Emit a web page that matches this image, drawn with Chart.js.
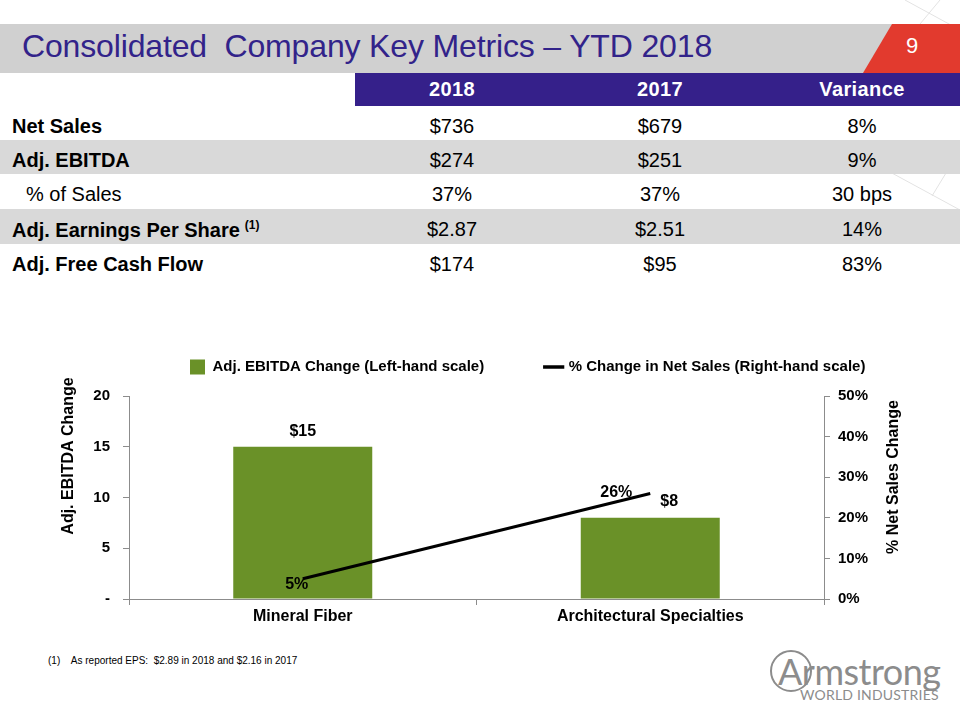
<!DOCTYPE html>
<html>
<head>
<meta charset="utf-8">
<script src="https://cdn.jsdelivr.net/npm/chart.js@4.4.1/dist/chart.umd.min.js"></script>
<style>
  body { margin: 0; width: 960px; height: 720px; position: relative; overflow: hidden; background: #fff;
         font-family: "Liberation Sans", Arial, sans-serif; }
  .abs { position: absolute; }
  #titlebar { left: 0; top: 24px; width: 960px; height: 49px; background: #d0d0d0; }
  #title { left: 22px; top: 28px; font-size: 32px; letter-spacing: -0.15px; color: #32238a; white-space: nowrap; }
  #pagenum { left: 900px; top: 33px; width: 24px; text-align: center; font-size: 22px; color: #fff; }
  .row { position: absolute; left: 0; width: 960px; }
  .row.grey { background: #d9d9d9; }
  .cell { position: absolute; top: 0; white-space: nowrap; font-size: 20px; color: #000; }
  .lab { left: 12px; font-weight: bold; }
  .lab.indent { left: 26px; font-weight: normal; }
  .num { width: 200px; text-align: center; }
  #head { left: 355px; top: 73px; width: 605px; height: 33px; background: #35208a; }
  .hd { position: absolute; top: 5px; width: 200px; text-align: center; color: #fff; font-weight: bold; font-size: 20px; letter-spacing: 0.4px; }
  #chartbox { left: 56px; top: 350px; width: 880px; height: 280px; }
  #note { left: 48px; top: 654px; font-size: 11px; color: #000; white-space: nowrap; transform: scaleX(0.91); transform-origin: 0 0; }
  #logo { left: 768px; top: 646px; width: 190px; height: 60px; color: #8c8c8c; white-space: nowrap; }
</style>
</head>
<body>
<svg class="abs" style="left:0;top:0" width="960" height="720">
  <g stroke="#e3e3e3" stroke-width="1" fill="none">
    <line x1="905" y1="0" x2="960" y2="30"/>
    <line x1="940" y1="0" x2="920" y2="24"/>
    <line x1="890" y1="172" x2="960" y2="210"/>
    <line x1="960" y1="150" x2="932" y2="196"/>
  </g>
</svg>
<div id="titlebar" class="abs"></div>
<svg class="abs" style="left:0;top:0" width="960" height="80">
  <polygon points="892,24 960,24 960,73 863,73" fill="#e23a2e"/>
</svg>
<div id="title" class="abs">Consolidated&nbsp; Company Key Metrics – YTD 2018</div>
<div id="pagenum" class="abs">9</div>

<div id="head" class="abs"></div>
<div id="table"></div>

<div id="chartbox" class="abs"><canvas id="chart"></canvas></div>

<div id="note" class="abs">(1)&nbsp;&nbsp;&nbsp; As reported EPS:&nbsp; $2.89 in 2018 and $2.16 in 2017</div>
<div id="logo" class="abs">
  <div style="position:absolute;left:2px;top:4px;width:42px;height:42px;border:2px solid #8c8c8c;border-radius:50%;box-sizing:border-box"></div>
  <div style="position:absolute;left:10px;top:3px;font-family:Lato,'Liberation Sans',sans-serif;font-size:36px;letter-spacing:-0.5px">Armstrong</div>
  <div style="position:absolute;left:32px;top:40px;font-family:Lato,'Liberation Sans',sans-serif;font-size:14px;letter-spacing:0.2px">WORLD INDUSTRIES</div>
</div>

<script>
// table data
const tableCols = ['2018', '2017', 'Variance'];
const rowLabels = ['Net Sales', 'Adj. EBITDA', '% of Sales', 'Adj. Earnings Per Share', 'Adj. Free Cash Flow'];
const col2018 = ['$736', '$274', '37%', '$2.87', '$174'];
const col2017 = ['$679', '$251', '37%', '$2.51', '$95'];
const colVariance = ['8%', '9%', '30 bps', '14%', '83%'];

// chart data
const categories = ['Mineral Fiber', 'Architectural Specialties'];
const ebitdaChange = [15, 8];
const netSalesChange = [5, 26];
const leftTicks = [0, 5, 10, 15, 20];

const colCenters = [452, 660, 862];
const rowTops = [106, 140, 174, 209, 244];
const rowHeights = [34, 34, 35, 35, 34];

function buildTable() {
    const head = document.getElementById('head');
    tableCols.forEach((c, i) => {
        const d = document.createElement('div');
        d.className = 'hd';
        d.style.left = (colCenters[i] - 355 - 100) + 'px';
        d.textContent = c;
        head.appendChild(d);
    });
    const table = document.getElementById('table');
    rowLabels.forEach((label, r) => {
        const row = document.createElement('div');
        row.className = 'row' + (r % 2 === 1 ? ' grey' : '');
        row.style.top = rowTops[r] + 'px';
        row.style.height = rowHeights[r] + 'px';
        const lab = document.createElement('div');
        lab.className = 'cell lab' + (r === 2 ? ' indent' : '');
        lab.style.top = '9px';
        lab.textContent = label;
        if (r === 3) {
            const sup = document.createElement('sup');
            sup.textContent = '(1)';
            sup.style.fontSize = '12px';
            sup.style.marginLeft = '5px';
            lab.appendChild(sup);
        }
        row.appendChild(lab);
        [col2018, col2017, colVariance].forEach((col, i) => {
            const c = document.createElement('div');
            c.className = 'cell num';
            c.style.top = '9px';
            c.style.left = (colCenters[i] - 100) + 'px';
            c.textContent = col[r];
            row.appendChild(c);
        });
        table.appendChild(row);
    });
}
buildTable();

const FONT = '"Liberation Sans", Arial, sans-serif';
const LEGEND_PAD = 62;

// moves the legend into place, writes the value labels and the axis titles
const extras = {
    id: 'extras',
    afterLayout(chart) {
        const lg = chart.legend;
        const start = (lg.left + LEGEND_PAD + lg.right - lg.lineWidths[0]) / 2;
        const dx = 134 - start;
        lg.left += dx;
        lg.right += dx;
        lg.top = 17 - LEGEND_PAD - 7.5;
    },
    afterDatasetsDraw(chart) {
        const ctx = chart.ctx;
        ctx.save();
        ctx.fillStyle = '#000';
        ctx.font = 'bold 16px ' + FONT;
        ctx.textAlign = 'center';
        ctx.textBaseline = 'middle';
        const barOff = [[0, -15], [19, -16]];
        chart.getDatasetMeta(0).data.forEach((el, i) => {
            ctx.fillText('$' + ebitdaChange[i], el.x + barOff[i][0], el.y + barOff[i][1]);
        });
        const lineOff = [[-6, 6], [-34, -1]];
        chart.getDatasetMeta(1).data.forEach((el, i) => {
            ctx.fillText(netSalesChange[i] + '%', el.x + lineOff[i][0], el.y + lineOff[i][1]);
        });
        // axis titles, both reading upwards
        ctx.translate(13, 106);
        ctx.rotate(-Math.PI / 2);
        ctx.fillText('Adj. EBITDA Change', 0, 0);
        ctx.rotate(Math.PI / 2);
        ctx.translate(838 - 13, 127 - 106);
        ctx.rotate(-Math.PI / 2);
        ctx.fillText('% Net Sales Change', 0, 0);
        ctx.restore();
    }
};

const axisGrey = '#8c8c8c';

new Chart(document.getElementById('chart'), {
    data: {
        labels: categories,
        datasets: [
            {
                type: 'bar',
                label: 'Adj. EBITDA Change (Left-hand scale)',
                data: ebitdaChange,
                backgroundColor: '#6a9128',
                yAxisID: 'y',
                barPercentage: 0.4,
                categoryPercentage: 1,
                order: 2
            },
            {
                type: 'line',
                label: '% Change in Net Sales (Right-hand scale)',
                data: netSalesChange,
                borderColor: '#000',
                backgroundColor: '#000',
                borderWidth: 3,
                pointRadius: 0,
                yAxisID: 'y1',
                order: 1
            }
        ]
    },
    options: {
        responsive: true,
        maintainAspectRatio: false,
        animation: false,
        plugins: {
            tooltip: { enabled: false },
            legend: {
                position: 'top',
                maxHeight: 46,
                labels: {
                    color: '#000',
                    font: { family: FONT, size: 15, weight: 'bold' },
                    padding: LEGEND_PAD,
                    boxWidth: 15,
                    boxHeight: 15,
                    usePointStyle: true,
                    generateLabels(chart) {
                        return chart.data.datasets.map((ds, i) => ({
                            text: ds.label,
                            fillStyle: ds.type === 'bar' ? ds.backgroundColor : '#000',
                            strokeStyle: ds.type === 'bar' ? ds.backgroundColor : '#000',
                            lineWidth: ds.type === 'bar' ? 0 : 3.5,
                            pointStyle: ds.type === 'bar' ? 'rect' : 'line',
                            fontColor: '#000',
                            datasetIndex: i
                        }));
                    }
                }
            }
        },
        scales: {
            x: {
                type: 'category',
                offset: true,
                grid: { display: true, offset: true, drawOnChartArea: false, drawTicks: true, tickLength: 6, color: axisGrey },
                border: { color: axisGrey, width: 1 },
                ticks: { color: '#000', font: { family: FONT, size: 16, weight: 'bold' }, padding: 2, maxRotation: 0 },
                afterFit(s) { s.height = 31; }
            },
            y: {
                position: 'left',
                min: 0,
                max: 20,
                afterBuildTicks(s) { s.ticks = leftTicks.map(v => ({ value: v })); },
                grid: { display: true, drawOnChartArea: false, drawTicks: true, tickLength: 6, color: axisGrey },
                border: { color: axisGrey, width: 1 },
                ticks: {
                    color: '#000',
                    font: { family: FONT, size: 15, weight: 'bold' },
                    padding: 13,
                    callback: v => v === 0 ? '-' : v
                },
                afterFit(s) { s.width = 73; }
            },
            y1: {
                position: 'right',
                min: 0,
                max: 50,
                grid: { display: true, drawOnChartArea: false, drawTicks: true, tickLength: 6, color: axisGrey },
                border: { color: axisGrey, width: 1 },
                ticks: {
                    stepSize: 10,
                    color: '#000',
                    font: { family: FONT, size: 15, weight: 'bold' },
                    padding: 8,
                    callback: v => v + '%'
                },
                afterFit(s) { s.width = 112; }
            }
        }
    },
    plugins: [extras]
});
</script>
</body>
</html>
